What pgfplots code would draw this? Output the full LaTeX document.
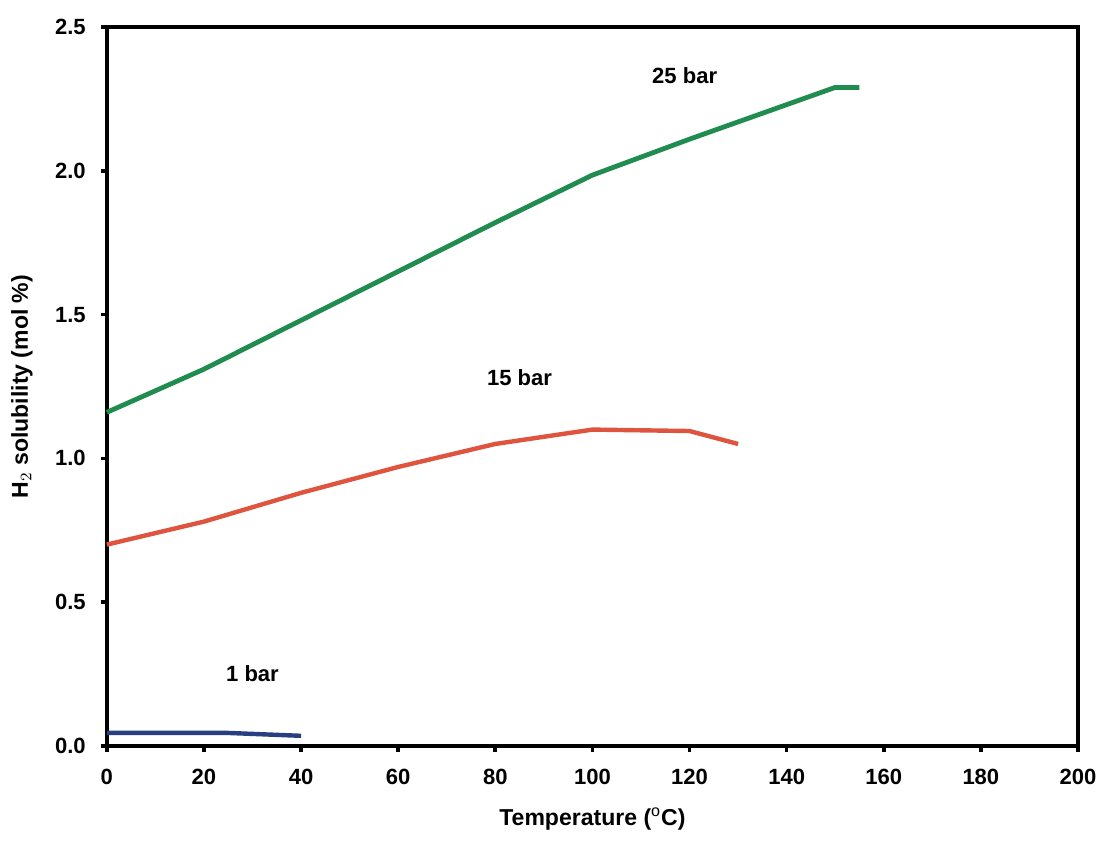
\documentclass[border=0pt]{standalone}
\usepackage{fontspec}
\setmainfont{Liberation Sans}
\usepackage{pgfplots}
\pgfplotsset{compat=1.18}
\definecolor{cgreen}{RGB}{32,140,80}
\definecolor{cred}{RGB}{222,84,62}
\definecolor{cblue}{RGB}{40,62,130}
\begin{document}
\begin{tikzpicture}
\begin{axis}[
  scale only axis,
  width=485pt, height=359pt,
  xmin=0, xmax=200, ymin=0, ymax=2.5,
  xtick={0,20,...,200},
  ytick={0,0.5,1.0,1.5,2.0,2.5},
  yticklabel style={/pgf/number format/fixed, /pgf/number format/fixed zerofill, /pgf/number format/precision=1, xshift=-4pt},
  /pgf/number format/assume math mode=true,
  tick label style={font=\bfseries\fontsize{11}{12}\selectfont},
  xticklabel style={yshift=-5pt},
  axis line style={line width=2pt},
  tick style={line width=1.8pt, black},
  tick align=outside,
  major tick length=3pt,
  xtick pos=bottom, ytick pos=left,
  xlabel={\bfseries Temperature ($^{\mathrm{o}}$C)},
  ylabel={\bfseries H$_2$ solubility (mol \%)},
  label style={font=\fontsize{11.5}{12}\selectfont},
  xlabel style={at={(axis description cs:0.5,-0.1017)}, anchor=center},
  ylabel style={at={(axis description cs:-0.0875,0.5)}, anchor=center},
  clip=false,
]
\path (rel axis cs:-0.110,-0.1323) rectangle (rel axis cs:1.0268,1.0376);
\addplot[cgreen, line width=2.4pt] coordinates {
  (0,1.16) (20,1.31) (40,1.48) (60,1.65) (80,1.82) (100,1.985) (120,2.11) (150,2.29) (155,2.29)};
\addplot[cred, line width=2.2pt] coordinates {
  (0,0.70) (20,0.78) (40,0.88) (60,0.97) (80,1.05) (100,1.10) (120,1.095) (130,1.05)};
\addplot[cblue, line width=2.2pt] coordinates {
  (0,0.045) (25,0.045) (40,0.035)};
\node[font=\bfseries\fontsize{11}{12}\selectfont] at (axis cs:119,2.33) {25 bar};
\node[font=\bfseries\fontsize{11}{12}\selectfont] at (axis cs:85,1.28) {15 bar};
\node[font=\bfseries\fontsize{11}{12}\selectfont] at (axis cs:30,0.25) {1 bar};
\end{axis}
\end{tikzpicture}
\end{document}
